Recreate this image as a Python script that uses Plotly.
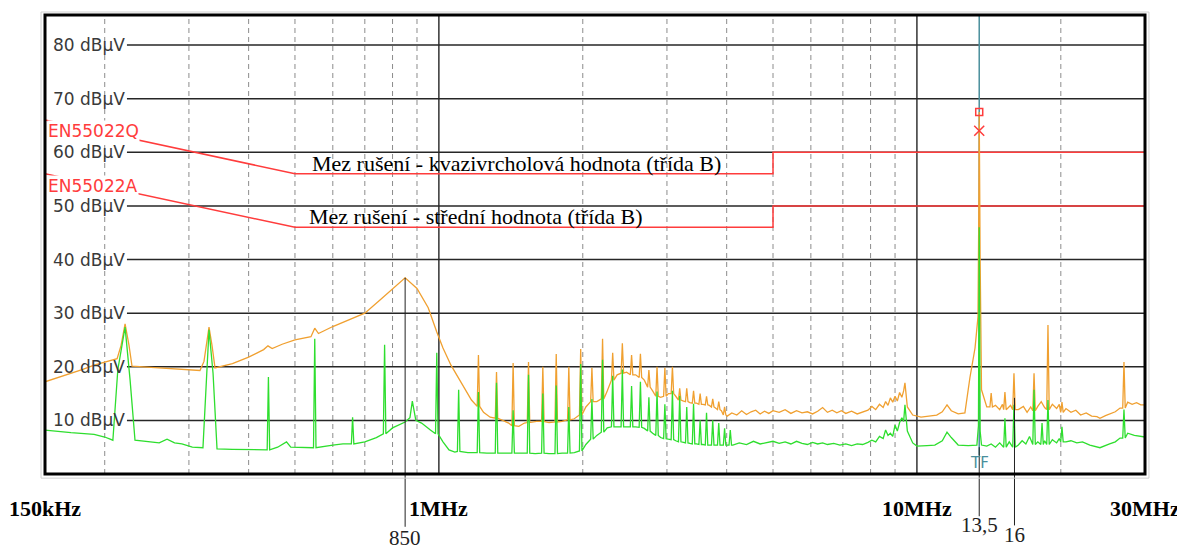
import math
import plotly.graph_objects as go

# ---------------- data (frequency in MHz, level in dBµV) ----------------
# Peak detector trace (orange)
peak_f = [0.15, 0.16, 0.17, 0.18, 0.19, 0.2, 0.2123, 0.2164, 0.2206, 0.2248,
          0.2281, 0.25, 0.27, 0.29, 0.3164, 0.3226, 0.3305, 0.3353, 0.3402, 0.37,
          0.4, 0.43, 0.439, 0.448, 0.47, 0.5, 0.54, 0.55, 0.56, 0.6,
          0.65, 0.7, 0.75, 0.8, 0.85, 0.9, 0.95, 0.99, 1.02, 1.06,
          1.12, 1.17, 1.24, 1.28, 1.36, 1.40, 1.47, 1.51, 1.6, 1.7,
          1.81, 1.92, 2.03, 2.14, 2.25, 2.36, 2.47, 2.58, 2.69, 2.80,
          2.91, 3.02, 3.13, 3.25, 3.35, 3.46, 3.57, 3.68, 3.79, 3.90,
          4.01, 4.1, 4.2, 4.3, 4.4, 4.5, 4.6, 4.7, 4.8, 4.9,
          5.0, 5.15, 5.3, 5.45, 5.6, 5.75, 5.9, 6.05, 6.2, 6.35,
          6.5, 6.65, 6.8, 6.95, 7.1, 7.3, 7.5, 7.7, 7.9, 8.05,
          8.2, 8.35, 8.5, 8.6, 8.7, 8.8, 8.9, 9.0, 9.1, 9.2,
          9.3, 9.38, 9.44, 9.55, 9.8, 10.2, 10.6, 11.0, 11.3, 11.56,
          11.8, 12.2, 12.6, 12.91, 13.23, 13.42, 13.47, 13.5, 13.56, 13.65,
          14.0, 14.6, 14.9, 15.1, 15.5, 15.7, 16.3, 16.7, 17.0, 17.3,
          17.9, 18.2, 18.5, 19.2, 19.6, 19.85, 20.5, 21.0, 21.5, 22.0,
          22.6, 23.2, 23.8, 24.15, 24.8, 25.3, 26.0, 26.6, 27.6, 28.2,
          28.8, 29.4, 30.0]
peak_v = [17.2, 18.0, 18.8, 19.5, 20.3, 20.8, 21.5, 24.0, 28.0, 24.0,
          20.1, 19.9, 19.7, 19.5, 19.3, 21.0, 27.4, 24.0, 19.8, 20.6,
          21.8, 23.2, 23.9, 23.4, 24.2, 25.0, 25.6, 27.2, 26.2, 27.5,
          28.8, 30.0, 32.3, 34.6, 36.6, 34.6, 31.0, 26.5, 23.5, 20.3,
          16.6, 13.8, 11.5, 10.6, 10.0, 9.5, 8.9, 9.5, 9.8, 9.6,
          9.8, 10.3, 12.5, 13.5, 15.5, 18.5, 19.0, 18.5, 17.5, 15.5,
          14.3, 15.0, 14.5, 13.6, 13.3, 13.2, 13.0, 12.8, 12.3, 11.8,
          10.8, 11.4, 11.0, 11.8, 11.1, 11.6, 11.9, 11.2, 11.7, 11.3,
          11.8, 11.5, 12.0, 11.3, 11.8, 11.4, 11.6, 11.2, 11.7, 12.4,
          11.5, 11.9, 11.4, 11.8, 11.3, 11.7, 11.2, 11.6, 11.9, 12.6,
          12.0, 13.0, 12.4, 13.5, 12.8, 14.2, 13.4, 14.5, 13.6, 15.2,
          14.3, 15.5, 17.0, 12.5, 11.0, 10.6, 10.8, 11.0, 11.6, 12.9,
          11.8, 11.2, 11.4, 18.0, 23.5, 29.3, 48.0, 67.5, 40.0, 15.7,
          12.5, 12.8, 12.0, 13.0, 12.3, 12.8, 12.0, 12.6, 11.5, 12.5,
          12.6, 13.5, 12.4, 13.0, 12.2, 13.0, 12.2, 11.5, 11.9, 11.0,
          11.4, 10.8, 10.7, 10.4, 10.9, 11.2, 11.6, 12.3, 13.4, 13.0,
          13.3, 12.9, 12.9]
# Peak detector narrow spikes: frequency, level beside the spike, spike top
peak_spike_f = [1.21, 1.32, 1.43, 1.54, 1.65, 1.76, 1.87, 1.98, 2.09, 2.20, 2.31, 2.42,
                2.53, 2.64, 2.75, 2.86, 2.97, 3.08, 3.19, 3.30, 3.41, 3.52, 3.63, 3.74,
                3.85, 3.96, 14.3, 15.28, 15.96, 17.58, 18.8, 20.11, 27.11]
peak_spike_base = [12.6, 10.4, 9.0, 9.6, 9.8, 9.7, 10.1, 11.0, 13.5, 14.0, 17.5, 18.8,
                   18.5, 18.0, 16.2, 14.5, 14.5, 15.0, 13.8, 13.5, 13.2, 13.0, 12.9, 12.5,
                   12.0, 11.0, 12.5, 12.0, 12.0, 11.8, 12.0, 11.5, 12.3]
peak_spike_top = [22.2, 19.0, 20.7, 20.9, 20.0, 22.4, 20.0, 23.3, 19.8, 25.2, 22.6, 24.4,
                  22.2, 22.4, 19.4, 20.0, 19.8, 20.0, 16.0, 16.0, 15.5, 15.0, 14.5, 14.0,
                  13.5, 12.5, 15.1, 15.3, 18.8, 18.8, 27.8, 13.4, 20.9]

# Average detector trace (green)
avg_f = [0.15, 0.17, 0.19, 0.2, 0.208, 0.213, 0.2206, 0.226, 0.2314, 0.245,
         0.26, 0.27, 0.28, 0.29, 0.305, 0.321, 0.3305, 0.337, 0.3435, 0.37,
         0.4, 0.425, 0.46, 0.48, 0.49, 0.52, 0.6, 0.63, 0.7, 0.74,
         0.80, 0.85, 0.87, 0.88, 0.895, 0.92, 0.96, 1.02, 1.05, 1.08,
         1.15, 1.26, 1.37, 1.48, 1.59, 1.70, 1.81, 1.92, 2.03, 2.14,
         2.25, 2.36, 2.47, 2.58, 2.69, 2.80, 2.91, 3.02, 3.13, 3.25,
         3.35, 3.46, 3.57, 3.68, 3.79, 3.90, 4.01, 4.12, 4.25, 4.4,
         4.55, 4.7, 4.85, 5.0, 5.15, 5.3, 5.45, 5.6, 5.75, 5.9,
         6.05, 6.2, 6.35, 6.5, 6.7, 6.9, 7.1, 7.3, 7.5, 7.7,
         7.9, 8.05, 8.2, 8.35, 8.5, 8.6, 8.7, 8.8, 8.9, 9.0,
         9.1, 9.2, 9.3, 9.38, 9.44, 9.55, 9.8, 10.0, 10.5, 10.9,
         11.3, 11.56, 11.8, 12.2, 12.8, 13.35, 13.45, 13.5, 13.56, 13.65,
         14.0, 14.3, 14.6, 14.9, 15.6, 16.3, 16.6, 16.9, 17.2, 17.9,
         18.5, 19.2, 19.6, 19.85, 20.5, 21.0, 21.6, 22.2, 23.0, 24.15,
         25.3, 26.0, 26.6, 27.6, 28.5, 30.0]
avg_v = [8.2, 7.7, 7.4, 6.9, 6.3, 19.4, 27.4, 17.5, 6.3, 6.0,
         5.8, 6.5, 5.8, 5.6, 5.0, 4.9, 26.9, 18.8, 4.7, 4.6,
         4.5, 4.5, 5.0, 6.0, 5.0, 4.9, 5.4, 5.6, 6.0, 6.8,
         8.6, 9.7, 10.5, 13.6, 10.0, 9.5, 8.2, 6.0, 4.5, 4.1,
         4.0, 3.9, 3.9, 3.9, 3.8, 3.8, 3.9, 4.0, 5.5, 7.2,
         8.6, 8.8, 8.8, 8.8, 8.5, 7.6, 6.8, 6.5, 6.2, 5.9,
         5.7, 5.6, 5.5, 5.4, 5.4, 5.4, 5.4, 5.4, 5.8, 5.5,
         6.1, 5.6, 5.9, 6.1, 5.7, 6.0, 5.6, 6.1, 5.7, 5.5,
         5.9, 5.6, 5.8, 5.5, 5.7, 5.4, 5.6, 5.3, 5.6, 5.5,
         5.9, 6.3, 6.0, 7.0, 6.6, 8.2, 7.2, 7.6, 7.0, 9.1,
         8.0, 9.6, 10.5, 9.8, 12.9, 8.0, 5.8, 5.2, 5.3, 5.4,
         6.2, 7.8, 6.8, 5.4, 5.3, 5.4, 9.0, 46.0, 8.0, 5.4,
         5.2, 5.6, 5.0, 5.8, 6.0, 5.4, 6.2, 5.6, 7.0, 6.0,
         6.2, 6.4, 5.8, 6.6, 6.0, 6.2, 5.8, 6.0, 5.4, 4.9,
         5.6, 6.0, 6.7, 7.6, 7.2, 6.9]
avg_spike_f = [0.44, 0.55, 0.66, 0.77, 0.99, 1.10, 1.21, 1.32, 1.43, 1.54, 1.65, 1.76,
               1.87, 1.98, 2.09, 2.20, 2.31, 2.42, 2.53, 2.64, 2.75, 2.86, 2.97, 3.08,
               3.19, 3.30, 3.41, 3.52, 3.63, 3.74, 3.85, 3.96, 4.07,
               15.28, 15.96, 17.58, 18.27, 18.8, 20.11, 27.11]
avg_spike_base = [4.5, 4.9, 5.6, 7.5, 7.5, 4.2, 4.0, 3.9, 3.9, 3.9, 3.9, 3.8,
                  3.9, 4.3, 6.5, 7.8, 8.8, 8.8, 8.8, 8.7, 8.0, 7.2, 6.6, 6.4,
                  6.0, 5.8, 5.6, 5.5, 5.4, 5.4, 5.4, 5.4, 5.4,
                  5.0, 5.0, 5.5, 5.5, 5.5, 6.0, 6.7]
avg_spike_top = [18.1, 25.2, 10.6, 24.1, 22.6, 15.7, 15.3, 17.0, 11.9, 18.5, 15.0, 16.5,
                 12.5, 20.5, 14.0, 21.3, 18.3, 19.5, 16.4, 17.2, 14.3, 15.4, 13.0, 15.5,
                 14.6, 12.5, 13.1, 10.0, 11.4, 10.0, 9.5, 8.5, 8.2,
                 10.4, 12.9, 15.7, 9.5, 13.8, 8.8, 12.0]

# EN 55022 class B limits
limit_f = [0.15, 0.5, 0.5, 5, 5, 30]
limit_qp = [66, 56, 56, 56, 60, 60]
limit_av = [56, 46, 46, 46, 50, 50]

# measured points at 13.5 MHz
meas_f = [13.5]
meas_peak = [67.5]
meas_qp = [64.0]

y_ticks = [10, 20, 30, 40, 50, 60, 70, 80]
y_tick_text = [f"{v} dBµV" for v in y_ticks]
x_label_f = [0.15, 1, 10, 30]
x_label_text = ["150kHz", "1MHz", "10MHz", "30MHz"]
grid_minor_f = [0.2, 0.3, 0.4, 0.5, 0.6, 0.7, 0.8, 0.9, 2, 3, 4, 5, 6, 7, 8, 9, 20]
grid_major_f = [1, 10]

mark_f = [0.85, 13.5, 16]
mark_text = ["850", "13,5", "16"]
mark_level = [36.6, 5.0, 14.2]
mark_line_end = [-0.115, -0.092, -0.112]
mark_label_y = [-0.139, -0.111, -0.133]

Y_MAX = 85.6
X_RANGE = [math.log10(0.15), math.log10(30)]

ORANGE = "#f0a030"
GREEN = "#2ede2e"
RED = "#ff3c3c"
TEAL = "#4a8f9c"


def with_spikes(bf, bv, sf, sb, st, half=0.006):
    pts = list(zip(bf, bv))
    for f, b, t in zip(sf, sb, st):
        pts += [(f * (1 - half), b), (f, t), (f * (1 + half), b)]
    pts.sort(key=lambda p: p[0])
    return [p[0] for p in pts], [p[1] for p in pts]


pk_x, pk_y = with_spikes(peak_f, peak_v, peak_spike_f, peak_spike_base, peak_spike_top)
av_x, av_y = with_spikes(avg_f, avg_v, avg_spike_f, avg_spike_base, avg_spike_top)

fig = go.Figure()
fig.add_trace(go.Scatter(x=limit_f, y=limit_qp, mode="lines",
                         line=dict(color=RED, width=1.5), hoverinfo="skip"))
fig.add_trace(go.Scatter(x=limit_f, y=limit_av, mode="lines",
                         line=dict(color=RED, width=1.5), hoverinfo="skip"))
fig.add_trace(go.Scatter(x=pk_x, y=pk_y, mode="lines",
                         line=dict(color=ORANGE, width=1.3)))
fig.add_trace(go.Scatter(x=av_x, y=av_y, mode="lines",
                         line=dict(color=GREEN, width=1.3)))
fig.add_trace(go.Scatter(x=meas_f, y=meas_peak, mode="markers",
                         marker=dict(symbol="square-open", size=7, color=RED,
                                     line=dict(width=1.5, color=RED))))
fig.add_trace(go.Scatter(x=meas_f, y=meas_qp, mode="markers",
                         marker=dict(symbol="x-thin-open", size=10, color=RED,
                                     line=dict(width=1.5, color=RED))))

shapes = []
for f in grid_minor_f:
    shapes.append(dict(type="line", xref="x", yref="paper", x0=f, x1=f, y0=0, y1=1,
                       line=dict(color="#8c8c8c", width=1, dash="5px,4px"), layer="below"))
for f in grid_major_f:
    shapes.append(dict(type="line", xref="x", yref="paper", x0=f, x1=f, y0=0, y1=1,
                       line=dict(color="#333333", width=1.5), layer="below"))
for v in y_ticks:
    shapes.append(dict(type="line", xref="paper", yref="y", x0=0.0745, x1=1, y0=v, y1=v,
                       line=dict(color="#262626", width=1.5), layer="below"))
# TF marker line
shapes.append(dict(type="line", xref="x", yref="paper", x0=meas_f[0], x1=meas_f[0],
                   y0=3.5 / Y_MAX, y1=1, line=dict(color=TEAL, width=1.5), layer="below"))
# marker lines below plot
for f, lv, end in zip(mark_f, mark_level, mark_line_end):
    shapes.append(dict(type="line", xref="x", yref="paper", x0=f, x1=f,
                       y0=lv / Y_MAX, y1=end, line=dict(color="#222222", width=1)))
# frame
shapes.append(dict(type="rect", xref="paper", yref="paper", x0=-0.0036, x1=1.0036,
                   y0=-0.009, y1=1.0065, line=dict(color="#d0d0d0", width=1)))
shapes.append(dict(type="rect", xref="paper", yref="paper", x0=0, x1=1, y0=0, y1=1,
                   line=dict(color="black", width=3)))

ann = []
for v, t in zip(y_ticks, y_tick_text):
    ann.append(dict(x=0.0745, y=v, xref="paper", yref="y", text=t, showarrow=False,
                    xanchor="right", yanchor="middle",
                    font=dict(family="DejaVu Sans", size=17, color="#3a3a3a")))
ann.append(dict(x=0.002, y=64.0, xref="paper", yref="y", text="EN55022Q", showarrow=False,
                xanchor="left", yanchor="middle", bgcolor="white", borderpad=0,
                font=dict(family="DejaVu Sans", size=17, color=RED)))
ann.append(dict(x=0.002, y=53.7, xref="paper", yref="y", text="EN55022A", showarrow=False,
                xanchor="left", yanchor="middle", bgcolor="white", borderpad=0,
                font=dict(family="DejaVu Sans", size=17, color=RED)))
ann.append(dict(x=math.log10(0.537), y=58.0, xref="x", yref="y",
                text="Mez rušení - kvazivrcholová hodnota (třída B)", showarrow=False,
                xanchor="left", yanchor="middle",
                font=dict(family="Liberation Serif", size=22, color="black")))
ann.append(dict(x=math.log10(0.530), y=48.1, xref="x", yref="y",
                text="Mez rušení - střední hodnota (třída B)", showarrow=False,
                xanchor="left", yanchor="middle",
                font=dict(family="Liberation Serif", size=22, color="black")))
for f, t in zip(x_label_f, x_label_text):
    ann.append(dict(x=math.log10(f), y=-0.076, xref="x", yref="paper", text=f"<b>{t}</b>",
                    showarrow=False, xanchor="center", yanchor="middle",
                    font=dict(family="Liberation Serif", size=22, color="black")))
for f, t, yl in zip(mark_f, mark_text, mark_label_y):
    ann.append(dict(x=math.log10(f), y=yl, xref="x", yref="paper", text=t,
                    showarrow=False, xanchor="center", yanchor="middle",
                    font=dict(family="Liberation Serif", size=21, color="#222222")))
ann.append(dict(x=math.log10(meas_f[0]), y=0.024, xref="x", yref="paper", text="TF",
                showarrow=False, xanchor="center", yanchor="middle",
                font=dict(family="DejaVu Sans", size=15, color=TEAL)))

# page body has an 8 px margin, so the figure is 8 px smaller than the window
fig.update_layout(
    width=1177, height=543,
    margin=dict(l=37, r=40, t=7, b=77),
    paper_bgcolor="white", plot_bgcolor="white",
    showlegend=False,
    xaxis=dict(type="log", range=X_RANGE, showgrid=False, showticklabels=False,
               zeroline=False, ticks="", showline=False),
    yaxis=dict(range=[0, Y_MAX], showgrid=False, showticklabels=False,
               zeroline=False, ticks="", showline=False),
    shapes=shapes, annotations=ann,
)

fig.write_html("out.html")
